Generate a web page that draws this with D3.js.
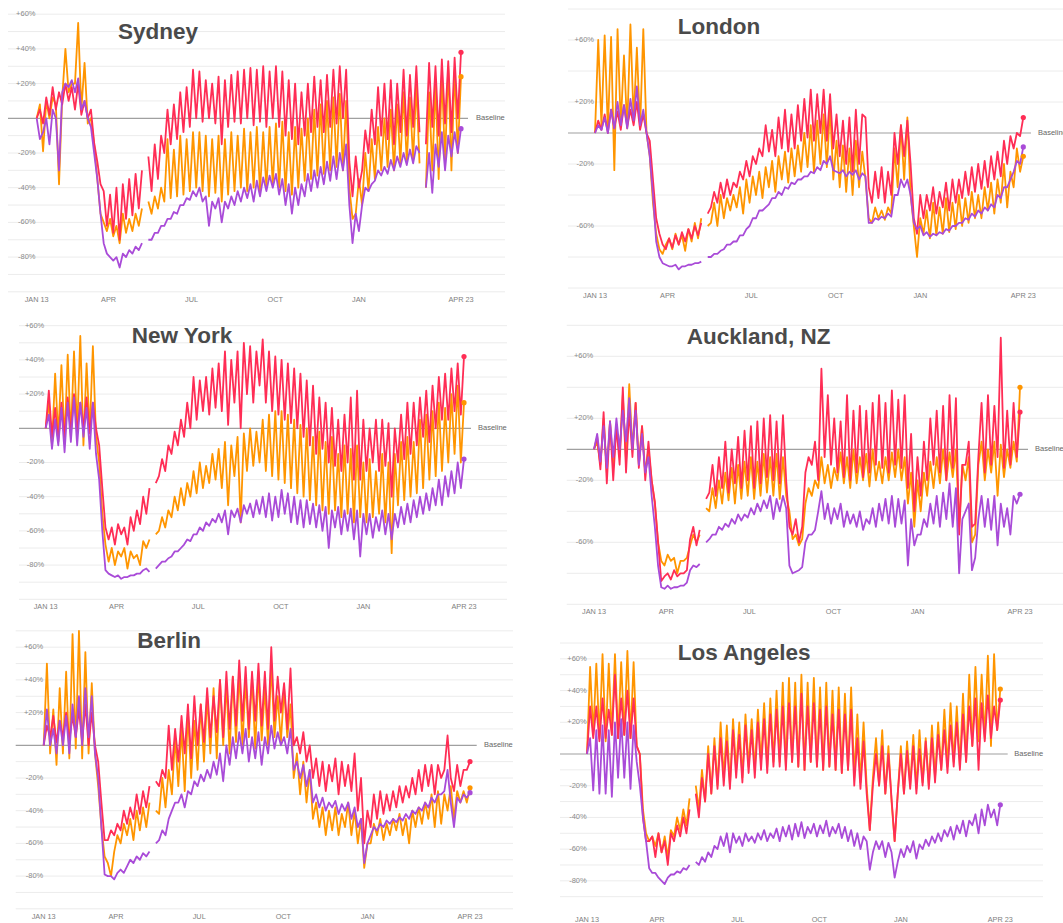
<!DOCTYPE html>
<html>
<head>
<meta charset="utf-8">
<script src="https://cdn.jsdelivr.net/npm/d3@7"></script>
<style>
  body { margin: 0; background: #fff; }
  svg { display: block; }
</style>
</head>
<body>
<svg id="chart" width="1063" height="923"></svg>
<script>
const cities = ['Sydney', 'London', 'New York', 'Auckland, NZ', 'Berlin', 'Los Angeles']
const modes = ['Walking', 'Driving', 'Transit']
const tickLabels = ['JAN 13', 'APR', 'JUL', 'OCT', 'JAN', 'APR 23']
const tickDates = ['2020-01-13', '2020-04-01', '2020-07-01', '2020-10-01', '2021-01-01', '2021-04-23']
const firstDay = '2020-01-13', lastDay = '2021-04-23'

// % change vs baseline, two readings a week (Mon, Thu), null = missing day
const sydneyDriving = [0,5, -3,12, 2,18, 5,15, 8,20, 10,18, 5,20, 2,10,
  0,5, -14,-25, -38,-42, -62,-44, -66,-40, -70,-38, -58,-35, -56,-32,
  -52,-30, null,-22, -42,-15, -35,-10, -20,5, -15,8, -12,15, -8,18,
  -5,28, 0,27, -2,22, 0,20, -3,24, -15,22, -5,25, -2,27,
  -3,28, 0,29, -4,28, -2,30, -5,27, 0,30, -5,27, -10,22,
  -12,20, -15,15, -10,20, -8,24, -5,22, -8,25, -5,28, -3,30,
  0,28, -25,-45, -22,-40, -30,-7, -20,5, -15,18, -10,20, -12,22,
  -15,20, -8,28, -10,25, -5,30, -8,null, -15,32, -5,30, -10,34,
  -3,33, -8,35, 0,38]
const sydneyWalking = [0,8, -19,10, 0,12, 8,-38, 12,40, 15,20, 20,55, 5,32,
  -3,0, -15,-35, -55,-60, -65,-58, -68,-62, -72,-55, -66,-58, -65,-55,
  -62,-52, null,-48, -55,-45, -52,-40, -48,-12, -46,-18, -45,-10, -44,-12,
  -42,-8, -40,-8, -42,-10, -45,-12, -43,-10, -48,-12, -44,-8, -42,-10,
  -40,-6, -42,-8, -40,-5, -42,-8, -40,-5, -38,-3, -40,-2, -42,-8,
  -44,-5, -40,-6, -36,0, -35,5, -33,8, -32,10, -30,12, -28,14,
  -30,10, -40,-58, -55,-35, -50,-20, -42,-12, -35,-5, -30,0, -28,5,
  -30,8, -26,15, -25,12, -24,20, -26,null, -40,15, -30,20, -35,25,
  -25,30, -30,28, -20,24]
const sydneyTransit = [0,-12, -8,0, -15,5, 0,-30, 15,20, 18,22, 15,23, 5,10,
  0,-5, -20,-35, -55,-72, -78,-80, -82,-80, -86,-78, -80,-76, -78,-74,
  -76,-72, null,-70, -70,-66, -66,-62, -62,-58, -58,-54, -55,-50, -50,-46,
  -47,-42, -45,-40, -48,-45, -62,-48, -52,-46, -60,-48, -52,-45, -50,-42,
  -48,-40, -46,-38, -48,-36, -45,-34, -42,-33, -40,-32, -44,-35, -50,-38,
  -55,-40, -50,-38, -45,-32, -42,-30, -40,-28, -38,-25, -36,-22, -35,-20,
  -30,-15, -50,-72, -55,-65, -50,-40, -42,-38, -36,-30, -33,-28, -32,-24,
  -30,-22, -28,-20, -27,-18, -26,-16, -20,null, -40,-20, -43,-15, -28,-8,
  -30,-10, -22,-8, -20,-6]

const londonDriving = [0,8, 2,12, 0,15, 3,14, 2,18, 4,15, 5,20, 2,12,
  0,-5, -30,-55, -65,-72, -75,-68, -74,-66, -72,-64, -70,-62, -68,-60,
  -66,-58, null,-52, -48,-38, -45,-32, -42,-30, -40,-32, -35,-25, -30,-18,
  -28,-15, -20,-10, -15,5, -12,2, -15,10, -10,15, -12,12, -10,18,
  -5,22, -3,28, -5,25, 0,28, -5,25, -10,12, -15,8, -20,10,
  -25,15, -20,12, 10,-35, -45,-25, -42,-22, -45,-25, -40,0, -20,5,
  -15,8, -20,-55, -65,-40, -55,-40, -50,-35, -52,-38, -48,-32, -50,-30,
  -45,-30, -42,-25, -40,-22, -38,-20, -36,-18, -35,-15, -30,-12, -28,-5,
  -20,-2, -10,0, -2,10]
const londonWalking = [0,60, 5,63, 2,62, -24,67, 5,50, 3,70, 8,55, 3,67,
  0,-15, -45,-65, -75,-78, -72,-68, -75,-65, -72,-66, -76,-62, -70,-58,
  -68,-55, null,-60, -58,-45, -60,-40, -55,-42, -50,-40, -48,-35, -52,-30,
  -45,-28, -40,-25, -42,-22, -35,-18, -38,-15, -30,-12, -32,-10, -28,-8,
  -25,0, -22,5, -25,8, -20,12, -22,17, -30,-5, -35,-8, -38,-10,
  -40,-5, -35,-12, -30,-55, -58,-48, -55,-50, -56,-48, -52,-10, -35,5,
  -30,10, -40,-60, -80,-55, -65,-50, -68,-45, -66,-48, -65,-42, -64,-45,
  -62,-40, -60,-42, -58,-38, -55,-40, -55,-35, -50,-32, -52,-30, -45,-20,
  -48,-25, -35,-10, -25,-15]
const londonTransit = [0,5, 2,10, 0,15, 3,20, 5,18, 3,22, 8,30, 5,15,
  0,-15, -40,-70, -80,-84, -85,-86, -86,-85, -88,-86, -86,-85, -85,-84,
  -84,-83, null,-80, -80,-78, -78,-76, -75,-72, -72,-70, -70,-66, -66,-62,
  -60,-55, -55,-50, -50,-48, -46,-42, -42,-38, -40,-35, -36,-32, -33,-30,
  -30,-28, -28,-25, -26,-22, -24,-18, -20,-15, -24,-25, -26,-24, -28,-25,
  -27,-24, -30,-26, -28,-58, -58,-55, -56,-54, -55,-52, -54,-40, -40,-30,
  -35,-30, -40,-58, -62,-60, -66,-64, -67,-65, -66,-64, -65,-62, -63,-60,
  -60,-58, -58,-55, -56,-52, -54,-50, -52,-48, -50,-46, -48,-40, -42,-35,
  -35,-30, -25,-18, -20,-9]

const newYorkDriving = [0,22, -5,12, -8,15, -5,18, -3,20, -2,15, 0,18, -3,15,
  0,-10, -35,-58, -65,-58, -68,-56, -62,-58, -68,-52, -60,-48, -56,-40,
  -50,-35, null,-32, -28,-18, -25,-10, -15,-2, -10,5, -5,15, 0,30,
  5,28, 10,30, 8,35, 12,38, 10,45, 2,40, 15,45, 0,50,
  20,48, 15,45, 25,52, 15,45, 10,42, 8,40, 5,38, 3,35,
  0,32, -5,28, -10,25, -15,18, -12,15, -20,12, -22,5, -25,8,
  -20,18, -30,22, -30,5, -25,0, -20,5, -25,5, -22,3, -40,0,
  -20,8, -18,15, -15,15, -10,18, -5,22, -8,25, 0,30, 5,32,
  5,35, 10,38, 8,42]
const newYorkWalking = [0,15, -10,32, -5,37, -8,43, -5,45, -2,54, -10,38, -3,48,
  -5,-20, -50,-68, -78,-70, -80,-72, -75,-70, -82,-72, -76,-74, -80,-66,
  -70,-65, null,-62, -60,-52, -58,-48, -52,-40, -48,-35, -45,-32, -40,-25,
  -38,-20, -35,-22, -32,-15, -30,-12, -35,-8, -45,-10, -28,-5, -55,-3,
  -25,0, -22,-2, -20,5, -25,8, -28,10, -30,10, -32,8, -35,5,
  -38,2, -40,0, -42,-5, -45,-2, -48,-8, -50,-5, -48,-15, -52,-10,
  -50,-12, -55,-10, -52,-20, -55,-18, -52,-25, -50,-15, -55,-20, -73,-15,
  -45,-8, -42,-5, -40,-8, -38,5, -35,8, -30,10, -28,15, -25,12,
  -20,20, -15,25, -20,15]
const newYorkTransit = [0,8, -12,5, -10,12, -14,15, -8,18, -10,15, -5,12, -12,15,
  -15,-30, -60,-83, -85,-86, -87,-86, -88,-87, -87,-86, -86,-85, -85,-83,
  -82,-84, null,-82, -80,-78, -78,-76, -75,-72, -72,-70, -68,-65, -66,-62,
  -62,-58, -60,-55, -57,-53, -55,-50, -55,-48, -62,-48, -52,-47, -55,-45,
  -50,-44, -52,-42, -50,-40, -52,-38, -54,-40, -52,-36, -50,-38, -55,-40,
  -56,-42, -58,-42, -56,-44, -58,-45, -60,-46, -70,-48, -58,-46, -62,-48,
  -60,-47, -65,-48, -75,-50, -62,-50, -64,-52, -60,-48, -62,-50, -65,-50,
  -58,-46, -56,-44, -55,-42, -52,-40, -50,-38, -48,-35, -45,-30, -45,-28,
  -40,-25, -38,-20, -35,-18]

const aucklandDriving = [0,8, -13,24, -22,18, -20,15, -10,40, -15,25, -5,30, -12,15,
  -20,5, -20,-34, -60,-85, -82,-80, -84,-78, -82,-80, -80,-78, -58,-50,
  -62,-52, null,-32, -28,-10, -30,-5, -25,5, -28,0, -22,8, -25,12,
  -20,15, -25,18, -22,20, -18,22, -20,18, -22,22, -20,-50, -55,-45,
  -60,-50, -15,-5, -10,5, -20,52, -5,35, -10,20, -15,18, -18,35,
  -20,25, -15,28, -18,25, -15,30, -10,35, -12,30, -15,38, -10,32,
  -12,35, -25,10, -40,-5, -30,5, -20,20, -10,25, -15,28, -20,35,
  -12,33, -55,-10, -10,5, -50,-48, -5,30, -15,35, -10,28, -5,72,
  -12,25, -10,30, -5,24]
const aucklandWalking = [0,5, -10,20, -15,18, -12,15, -5,35, -8,42, 0,30, -10,15,
  -15,0, -20,-35, -60,-72, -75,-68, -72,-70, -80,-72, -72,-70, -62,-55,
  -60,-55, null,-38, -40,-25, -38,-20, -35,-15, -33,-12, -35,-10, -32,-8,
  -30,-5, -32,-8, -30,-3, -28,-5, -30,-3, -32,-5, -30,-40, -58,-55,
  -62,-58, -35,-25, -30,-20, -25,-5, -22,-10, -25,-12, -20,-2, -22,-5,
  -25,0, -22,-5, -20,-3, -24,0, -20,-8, -22,-5, -20,-2, -18,0,
  -20,-5, -35,-15, -50,-20, -40,-15, -30,-8, -25,-5, -22,0, -20,-2,
  -18,0, -50,-10, -20,-5, -60,-55, -10,5, -20,0, -15,5, -30,3,
  -18,0, -12,5, -8,40]
const aucklandTransit = [0,10, -8,15, -12,18, -5,20, 0,25, 5,33, 0,25, -10,10,
  -15,-5, -30,-50, -75,-89, -90,-88, -90,-89, -89,-88, -88,-86, -78,-75,
  -76,-74, null,-60, -58,-55, -55,-50, -52,-48, -50,-45, -48,-42, -46,-42,
  -44,-38, -42,-35, -40,-33, -38,-30, -45,-32, -40,-30, -38,-75, -80,-79,
  -78,-76, -60,-55, -55,-52, -40,-27, -45,-35, -48,-38, -45,-35, -50,-40,
  -48,-42, -50,-40, -52,-45, -48,-38, -50,-35, -46,-32, -48,-30, -50,-32,
  -48,-33, -75,-45, -62,-55, -55,-45, -50,-35, -48,-30, -50,-28, -45,-22,
  -50,-25, -80,-45, -40,-35, -78,-70, -45,-30, -50,-32, -52,-30, -62,-35,
  -50,-38, -55,-30, -35,-29]

const berlinDriving = [0,12, 5,18, 2,15, 5,20, 3,18, 5,22, 2,25, 0,20,
  0,-10, -35,-58, -58,-52, -55,-48, -52,-40, -48,-38, -45,-30, -42,-28,
  -38,-25, null,-22, -25,-15, -20,12, -15,10, -10,18, -5,25, -8,30,
  0,25, 2,35, 5,30, 8,40, 5,45, 10,42, 12,52, 15,48,
  10,45, 15,50, 12,45, 10,60, 15,42, 20,38, 10,47, 0,5,
  -5,8, -10,0, -20,-8, -25,-10, -28,-12, -22,-8, -30,-10, -25,-12,
  -28,-5, -40,-20, -60,-40, -50,-30, -45,-28, -42,-30, -40,-28, -38,-25,
  -35,-25, -32,-20, -30,-15, -28,-12, -25,-12, -30,-12, -20,-15, 6,-20,
  -28,-12, -25,-15, -15,-10]
const berlinWalking = [0,50, -5,22, -12,35, -5,45, -8,68, -2,70, -8,57, -5,38,
  -5,-25, -50,-68, -72,-80, -65,-55, -60,-48, -55,-45, -58,-40, -52,-38,
  -50,-35, null,-40, -42,-20, -38,-15, -30,5, -25,10, -28,20, -20,15,
  -15,25, -10,30, -5,35, -8,40, 0,38, -5,42, 2,45, 0,40,
  5,42, -2,45, 3,35, 0,50, 5,30, 2,35, 5,25, -20,-5,
  -30,-10, -35,-15, -45,-35, -50,-38, -55,-40, -52,-38, -55,-42, -50,-35,
  -55,-40, -60,-45, -75,-60, -60,-48, -55,-45, -58,-48, -55,-45, -52,-42,
  -55,-45, -60,-40, -50,-38, -48,-35, -45,-30, -50,-28, -48,-30, -40,-25,
  -45,-28, -35,-28, -35,-26]
const berlinTransit = [0,22, 0,10, -5,15, 0,18, -5,25, 5,30, 0,35, 5,30,
  -5,-20, -50,-79, -80,-80, -82,-78, -76,-78, -74,-70, -72,-68, -70,-66,
  -68,-65, null,-60, -58,-52, -55,-45, -40,-35, -35,-30, -38,-28, -30,-22,
  -25,-18, -22,-15, -20,-10, -18,-5, -22,0, -12,5, -8,8, -5,10,
  -10,5, -8,8, -12,5, -5,12, -2,8, 0,5, -5,10, -15,-10,
  -20,-12, -25,-15, -35,-30, -38,-32, -40,-35, -38,-34, -42,-36, -40,-35,
  -45,-38, -50,-45, -72,-60, -55,-50, -52,-48, -50,-46, -48,-45, -47,-44,
  -46,-42, -45,-40, -42,-38, -40,-35, -38,-32, -35,-30, -30,-28, -15,-35,
  -50,-32, -35,-30, -32,-29]

const losAngelesDriving = [0,30, 10,30, 8,35, 10,28, 12,50, 10,35, 12,40, 10,35,
  5,0, -40,-55, -55,-52, -65,-50, -62,-55, -70,-50, -55,-45, -52,-40,
  -50,-35, null,-25, -40,-15, -30,0, -25,5, -22,10, -20,8, -22,15,
  -15,12, -18,18, -12,15, -15,20, -10,22, -12,25, -8,28, -8,30,
  -10,32, -5,30, -8,38, -10,30, -5,32, -8,28, -10,30, -8,25,
  -10,28, -12,25, -10,28, -20,10, -22,8, -25,-48, -20,0, -20,5,
  -25,0, -28,-55, -25,0, -25,2, -22,5, -25,3, -20,8, -22,10,
  -18,12, -10,15, -12,18, -8,20, -10,25, -5,30, 5,35, -10,32,
  8,37, 10,30, 15,34]
const losAngelesWalking = [0,55, 12,57, 10,63, 8,57, 12,63, 10,58, 12,65, 10,58,
  5,0, -35,-50, -55,-52, -58,-50, -62,-52, -65,-48, -52,-40, -48,-35,
  -45,-28, null,-20, -35,-10, -30,5, -25,10, -20,20, -15,18, -20,22,
  -10,20, -15,25, -8,22, -10,28, -5,32, -8,35, -5,40, -5,45,
  -8,48, -5,45, -8,50, -10,45, -5,48, -8,42, -10,45, -8,40,
  -10,42, -12,38, -10,42, -15,25, -18,20, -20,-48, -15,10, -20,15,
  -25,5, -30,-55, -25,5, -25,8, -20,12, -22,15, -18,10, -20,18,
  -15,20, -10,28, -8,32, -5,30, -8,38, -5,50, 5,55, 8,50,
  10,62, 5,63, 15,41]
const losAngelesTransit = [0,10, -23,15, -25,18, -25,15, -27,20, -15,22, -15,20, -22,18,
  -5,-20, -40,-55, -72,-75, -75,-78, -80,-82, -78,-76, -76,-74, -75,-72,
  -73,-70, null,-68, -70,-65, -68,-62, -65,-58, -60,-52, -58,-50, -62,-50,
  -56,-52, -58,-50, -55,-52, -56,-50, -54,-48, -55,-50, -53,-47, -55,-46,
  -52,-45, -54,-44, -52,-43, -53,-46, -50,-44, -52,-45, -50,-42, -52,-46,
  -50,-44, -53,-46, -55,-48, -58,-50, -60,-52, -55,-73, -62,-55, -60,-55,
  -65,-56, -62,-78, -68,-60, -65,-58, -62,-55, -66,-57, -60,-54, -58,-52,
  -56,-50, -55,-48, -52,-46, -54,-45, -50,-42, -52,-42, -45,-38, -50,-35,
  -45,-32, -40,-35, -45,-32]

const cityData = {
  'Sydney': [sydneyWalking, sydneyDriving, sydneyTransit],
  'London': [londonWalking, londonDriving, londonTransit],
  'New York': [newYorkWalking, newYorkDriving, newYorkTransit],
  'Auckland, NZ': [aucklandWalking, aucklandDriving, aucklandTransit],
  'Berlin': [berlinWalking, berlinDriving, berlinTransit],
  'Los Angeles': [losAngelesWalking, losAngelesDriving, losAngelesTransit]
}

const modeColor = { Walking: '#ff9500', Driving: '#ff2d55', Transit: '#a94bd8' }
const sevenLabels = [60, 40, 20, -20, -40, -60, -80]
const fourLabels = [60, 20, -20, -60]

// each panel is a separate screenshot, so every one has its own frame
const panels = [
  { city: 'Sydney', x0: 36.7, x1: 461, vTop: 60, vBot: -100, yTop: 14.2, yBot: 291.8, grid: 10, labels: sevenLabels,
    labelX: 35.5, gridL: 8, gridR: 505, baseR: 468, baseTextX: 476, titleX: 118, titleY: 39.4, axisY: 300 },
  { city: 'London', x0: 595, x1: 1023.3, vTop: 80, vBot: -100, yTop: 9, yBot: 288, grid: 20, labels: fourLabels,
    labelX: 594, gridL: 568, gridR: 1063, baseR: 1031, baseTextX: 1038, titleX: 677.7, titleY: 34.3, axisY: 296 },
  { city: 'New York', x0: 45.7, x1: 464, vTop: 60, vBot: -100, yTop: 325.7, yBot: 599.3, grid: 10, labels: sevenLabels,
    labelX: 44.3, gridL: 19, gridR: 507, baseR: 471, baseTextX: 478, titleX: 131.7, titleY: 343.3, axisY: 607 },
  { city: 'Auckland, NZ', x0: 594, x1: 1020, vTop: 80, vBot: -100, yTop: 325.3, yBot: 604.3, grid: 20, labels: fourLabels,
    labelX: 593.3, gridL: 566.7, gridR: 1063, baseR: 1028, baseTextX: 1035, titleX: 686.7, titleY: 344.4, axisY: 611.7 },
  { city: 'Berlin', x0: 43.7, x1: 470, vTop: 70, vBot: -100, yTop: 630.85, yBot: 908.8, grid: 10, labels: sevenLabels,
    labelX: 43.3, gridL: 15.7, gridR: 513, baseR: 476.7, baseTextX: 484, titleX: 137.3, titleY: 648.3, axisY: 916.7 },
  { city: 'Los Angeles', x0: 587, x1: 1000.3, vTop: 70, vBot: -90, yTop: 643, yBot: 896.7, grid: 10, labels: sevenLabels,
    labelX: 586.7, gridL: 560, gridR: 1043, baseR: 1007.7, baseTextX: 1014.3, titleX: 677.7, titleY: 660, axisY: 920 }
]

const parseDay = d3.utcParse('%Y-%m-%d')
const t0 = parseDay(firstDay), t1 = parseDay(lastDay)
const svg = d3.select('#chart')
const font = "'Liberation Sans', Arial, sans-serif"

function fmtPct(v) {
  return (v > 0 ? '+' : '') + v + '%'
}

panels.forEach(p => {
  const g = svg.append('g').attr('class', 'panel')
  const x = d3.scaleUtc().domain([t0, t1]).range([p.x0, p.x1])
  const y = d3.scaleLinear().domain([p.vBot, p.vTop]).range([p.yBot, p.yTop])

  // gridlines
  const gridVals = d3.range(p.vTop, p.vBot - 1, -p.grid).filter(v => v !== 0)
  g.selectAll('.grid').data(gridVals).enter().append('line')
    .attr('x1', p.gridL).attr('x2', p.gridR)
    .attr('y1', d => y(d)).attr('y2', d => y(d))
    .attr('stroke', '#ececec').attr('stroke-width', 1)

  // y labels
  g.selectAll('.ylab').data(p.labels).enter().append('text')
    .attr('x', p.labelX).attr('y', d => y(d))
    .attr('text-anchor', 'end').attr('dominant-baseline', 'middle')
    .attr('font-family', font).attr('font-size', 7.5).attr('fill', '#8a8a8a')
    .text(fmtPct)

  // baseline
  g.append('line')
    .attr('x1', p.gridL).attr('x2', p.baseR)
    .attr('y1', y(0)).attr('y2', y(0))
    .attr('stroke', '#a0a0a0').attr('stroke-width', 1.2)
  g.append('text')
    .attr('x', p.baseTextX).attr('y', y(0))
    .attr('dominant-baseline', 'middle')
    .attr('font-family', font).attr('font-size', 7.5).attr('fill', '#666')
    .text('Baseline')

  // x labels
  g.selectAll('.xlab').data(tickLabels).enter().append('text')
    .attr('x', (d, i) => x(parseDay(tickDates[i])))
    .attr('y', p.axisY)
    .attr('text-anchor', 'middle').attr('dominant-baseline', 'middle')
    .attr('font-family', font).attr('font-size', 7.3).attr('fill', '#808080')
    .text(d => d)

  // series
  const series = cityData[p.city]
  series.forEach((vals, k) => {
    const n = vals.length
    const step = (t1 - t0) / (n - 1)
    const pts = vals.map((v, i) => ({ date: new Date(+t0 + i * step), v: v }))
    const line = d3.line()
      .defined(d => d.v !== null)
      .x(d => x(d.date))
      .y(d => y(d.v))
    g.append('path')
      .datum(pts)
      .attr('d', line)
      .attr('fill', 'none')
      .attr('stroke', modeColor[modes[k]])
      .attr('stroke-width', 1.8)
      .attr('stroke-linejoin', 'round')
  })
  // end dots on top
  series.forEach((vals, k) => {
    const last = vals[vals.length - 1]
    g.append('circle')
      .attr('cx', x(t1)).attr('cy', y(last)).attr('r', 2.6)
      .attr('fill', modeColor[modes[k]])
  })

  // title
  g.append('text')
    .attr('x', p.titleX).attr('y', p.titleY)
    .attr('font-family', font).attr('font-weight', 'bold').attr('font-size', 22.5)
    .attr('fill', '#4a4a4a')
    .text(p.city)
})
</script>
</body>
</html>
